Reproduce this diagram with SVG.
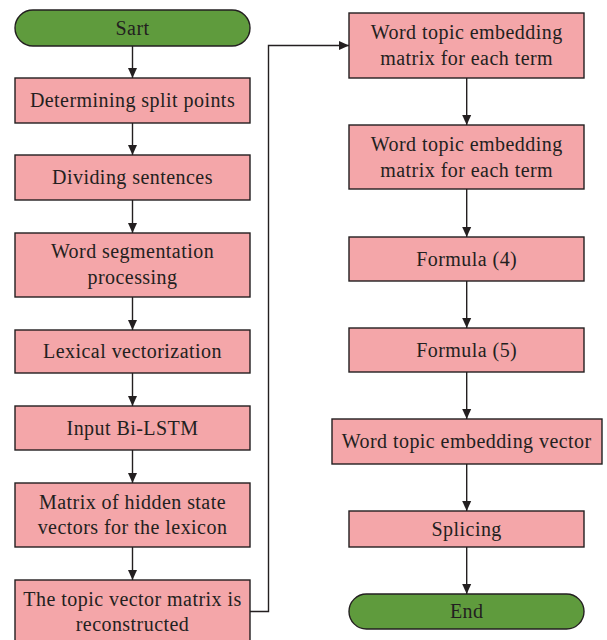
<svg xmlns="http://www.w3.org/2000/svg" width="607" height="640" viewBox="0 0 607 640">
  <style>
    .box { fill: #F4A6A9; stroke: #231F20; stroke-width: 1.4; }
    .term { fill: #5F9B3D; stroke: #231F20; stroke-width: 1.4; }
    .lbl { font-family: "Liberation Serif", "Times New Roman", serif; font-size: 20px; letter-spacing: 0.45px; fill: #231F20; text-anchor: middle; }
    .conn { fill: none; stroke: #231F20; stroke-width: 1.4; }
  </style>
  <defs>
    <marker id="arrow" viewBox="0 0 10 10" refX="10" refY="5" markerWidth="10" markerHeight="10" markerUnits="userSpaceOnUse" orient="auto">
      <path d="M0,0.5 L10,5 L0,9.5 Z" fill="#231F20"/>
    </marker>
  </defs>

  <rect width="607" height="640" fill="#FFFFFF"/>

  <!-- connectors -->
  <g id="connectors" class="conn" marker-end="url(#arrow)">
    <line x1="132.5" y1="46" x2="132.5" y2="78"/>
    <line x1="132.5" y1="123" x2="132.5" y2="155"/>
    <line x1="132.5" y1="200" x2="132.5" y2="233"/>
    <line x1="132.5" y1="297" x2="132.5" y2="330"/>
    <line x1="132.5" y1="373" x2="132.5" y2="406"/>
    <line x1="132.5" y1="450" x2="132.5" y2="483"/>
    <line x1="132.5" y1="547" x2="132.5" y2="580"/>
    <polyline points="250,611.5 268.5,611.5 268.5,45.5 349,45.5"/>
    <line x1="466.7" y1="78" x2="466.7" y2="125"/>
    <line x1="466.7" y1="189" x2="466.7" y2="237"/>
    <line x1="466.7" y1="281" x2="466.7" y2="328"/>
    <line x1="466.7" y1="372" x2="466.7" y2="419"/>
    <line x1="466.7" y1="464" x2="466.7" y2="511"/>
    <line x1="466.7" y1="547" x2="466.7" y2="594"/>
  </g>

  <!-- left column -->
  <g id="start">
    <rect class="term" x="15" y="10" width="235" height="36" rx="18" ry="18"/>
    <text class="lbl" x="132.5" y="34.5">Sart</text>
  </g>
  <g id="split-points">
    <rect class="box" x="15" y="78" width="235" height="45"/>
    <text class="lbl" x="132.5" y="107">Determining split points</text>
  </g>
  <g id="dividing">
    <rect class="box" x="15" y="155" width="235" height="45"/>
    <text class="lbl" x="132.5" y="184">Dividing sentences</text>
  </g>
  <g id="segmentation">
    <rect class="box" x="15" y="233" width="235" height="64"/>
    <text class="lbl" x="132.5" y="258">Word segmentation</text>
    <text class="lbl" x="132.5" y="284">processing</text>
  </g>
  <g id="lexical">
    <rect class="box" x="15" y="330" width="235" height="43"/>
    <text class="lbl" x="132.5" y="358">Lexical vectorization</text>
  </g>
  <g id="bilstm">
    <rect class="box" x="15" y="406" width="235" height="44"/>
    <text class="lbl" x="132.5" y="434.5">Input Bi-LSTM</text>
  </g>
  <g id="hidden-state">
    <rect class="box" x="15" y="483" width="235" height="64"/>
    <text class="lbl" x="132.5" y="508.5">Matrix of hidden state</text>
    <text class="lbl" x="132.5" y="534">vectors for the lexicon</text>
  </g>
  <g id="reconstructed">
    <rect class="box" x="15" y="580" width="235" height="64"/>
    <text class="lbl" x="132.5" y="605.5">The topic vector matrix is</text>
    <text class="lbl" x="132.5" y="631">reconstructed</text>
  </g>

  <!-- right column -->
  <g id="embedding-matrix-1">
    <rect class="box" x="349" y="13" width="235" height="65"/>
    <text class="lbl" x="466.7" y="39">Word topic embedding</text>
    <text class="lbl" x="466.7" y="64.5">matrix for each term</text>
  </g>
  <g id="embedding-matrix-2">
    <rect class="box" x="349" y="125" width="235" height="64"/>
    <text class="lbl" x="466.7" y="151">Word topic embedding</text>
    <text class="lbl" x="466.7" y="176.5">matrix for each term</text>
  </g>
  <g id="formula-4">
    <rect class="box" x="349" y="237" width="235" height="44"/>
    <text class="lbl" x="466.7" y="265.5">Formula (4)</text>
  </g>
  <g id="formula-5">
    <rect class="box" x="349" y="328" width="235" height="44"/>
    <text class="lbl" x="466.7" y="356.5">Formula (5)</text>
  </g>
  <g id="embedding-vector">
    <rect class="box" x="332" y="419" width="270" height="45"/>
    <text class="lbl" x="466.7" y="448">Word topic embedding vector</text>
  </g>
  <g id="splicing">
    <rect class="box" x="349" y="511" width="235" height="36"/>
    <text class="lbl" x="466.7" y="535.5">Splicing</text>
  </g>
  <g id="end">
    <rect class="term" x="349" y="594" width="235" height="35" rx="17.5" ry="17.5"/>
    <text class="lbl" x="466.7" y="618">End</text>
  </g>
</svg>
